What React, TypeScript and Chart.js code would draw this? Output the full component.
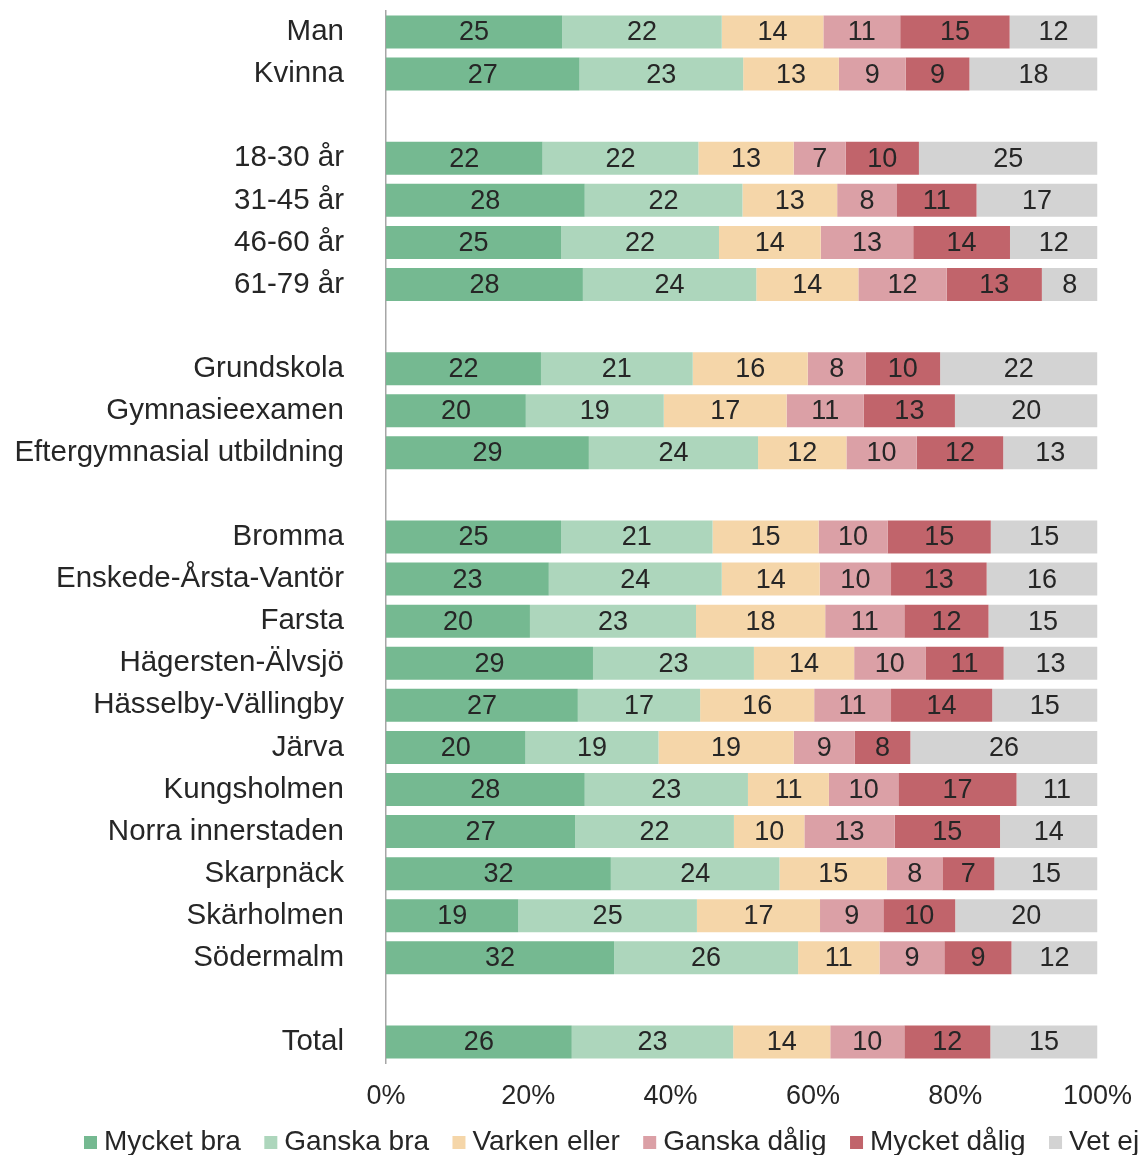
import React, { useEffect, useRef } from 'react';
import { Chart, registerables } from 'chart.js';

Chart.register(...registerables);

const categories = [
  'Man', 'Kvinna', '',
  '18-30 år', '31-45 år', '46-60 år', '61-79 år', '',
  'Grundskola', 'Gymnasieexamen', 'Eftergymnasial utbildning', '',
  'Bromma', 'Enskede-Årsta-Vantör', 'Farsta', 'Hägersten-Älvsjö', 'Hässelby-Vällingby',
  'Järva', 'Kungsholmen', 'Norra innerstaden', 'Skarpnäck', 'Skärholmen', 'Södermalm', '',
  'Total',
];

const seriesNames = ['Mycket bra', 'Ganska bra', 'Varken eller', 'Ganska dålig', 'Mycket dålig', 'Vet ej'];
const seriesColors = ['#75B991', '#ADD6BC', '#F5D6A9', '#DBA0A6', '#C1646B', '#D3D3D3'];

const mycketBra = [24.76, 27.2, null, 22.0, 27.93, 24.6, 27.67, null, 21.78, 19.65, 28.51, null, 24.6, 22.88, 20.23, 29.09, 26.96, 19.6, 27.93, 26.6, 31.6, 18.6, 32.06, null, 26.11];
const ganskaBra = [22.43, 23.0, null, 21.9, 22.17, 22.2, 24.37, null, 21.33, 19.39, 23.78, null, 21.3, 24.31, 23.34, 22.62, 17.19, 18.7, 22.94, 22.3, 23.7, 25.1, 25.86, null, 22.69];
const varkenEller = [14.28, 13.45, null, 13.4, 13.31, 14.3, 14.35, null, 16.16, 17.26, 12.42, null, 14.9, 13.77, 18.16, 14.09, 16.03, 19.0, 11.38, 9.9, 15.1, 17.3, 11.44, null, 13.64];
const ganskaDalig = [10.8, 9.4, null, 7.3, 8.41, 13.0, 12.41, null, 8.14, 10.86, 9.89, null, 9.7, 10.02, 11.12, 10.02, 10.8, 8.6, 9.76, 12.7, 7.8, 8.9, 9.11, null, 10.41];
const mycketDalig = [15.38, 8.95, null, 10.3, 11.18, 13.6, 13.38, null, 10.47, 12.8, 12.15, null, 14.5, 13.44, 11.83, 10.99, 14.22, 7.8, 16.61, 14.8, 7.3, 10.1, 9.44, null, 12.09];
const vetEj = [12.35, 18.0, null, 25.1, 17.0, 12.3, 7.82, null, 22.11, 20.04, 13.25, null, 15.0, 15.58, 15.32, 13.19, 14.8, 26.3, 11.38, 13.7, 14.5, 20.0, 12.09, null, 15.06];

const seriesValues = [mycketBra, ganskaBra, varkenEller, ganskaDalig, mycketDalig, vetEj];

const xTickValues = [0, 20, 40, 60, 80, 100];

const FONT = '"Liberation Sans", Arial, sans-serif';
const TEXT = '#262626';

export default function App() {
  const ref = useRef<HTMLCanvasElement>(null);

  useEffect(() => {
    document.body.style.margin = '0';
    const canvas = ref.current;
    if (!canvas) return;

    const segLabels = {
      id: 'segLabels',
      afterDatasetsDraw(chart: any) {
        const ctx = chart.ctx;
        ctx.save();
        ctx.font = `27px ${FONT}`;
        ctx.fillStyle = TEXT;
        ctx.textAlign = 'center';
        ctx.textBaseline = 'middle';
        chart.data.datasets.forEach((ds: any, i: number) => {
          const meta = chart.getDatasetMeta(i);
          meta.data.forEach((el: any, j: number) => {
            const v = ds.data[j];
            if (v == null) return;
            const p = el.getProps(['x', 'y', 'base'], true);
            ctx.fillText(String(Math.round(v)), (p.x + p.base) / 2, p.y + 1);
          });
        });
        ctx.restore();
      },
    };

    const bottomLegend = {
      id: 'bottomLegend',
      afterDraw(chart: any) {
        const ctx = chart.ctx;
        ctx.save();
        ctx.font = `28px ${FONT}`;
        ctx.textBaseline = 'middle';
        ctx.textAlign = 'left';
        let x = 84;
        const yText = 1142;
        chart.data.datasets.forEach((ds: any) => {
          ctx.fillStyle = ds.backgroundColor;
          ctx.fillRect(x, 1136, 13, 13);
          ctx.fillStyle = TEXT;
          ctx.fillText(ds.label, x + 20, yText);
          x += 20 + ctx.measureText(ds.label).width + 23.4;
        });
        ctx.restore();
      },
    };

    const chart = new Chart(canvas, {
      type: 'bar',
      data: {
        labels: categories,
        datasets: seriesNames.map((name, i) => ({
          label: name,
          data: seriesValues[i],
          backgroundColor: seriesColors[i],
          borderWidth: 0,
          barPercentage: 0.784,
          categoryPercentage: 1,
        })),
      },
      options: {
        indexAxis: 'y',
        responsive: false,
        animation: false,
        layout: { padding: { top: 11, right: 41.5, left: 0, bottom: 0 } },
        plugins: {
          legend: { display: false },
          tooltip: { enabled: false },
          title: { display: false },
        },
        scales: {
          x: {
            stacked: true,
            min: 0,
            max: 100,
            afterBuildTicks: (s: any) => {
              s.ticks = xTickValues.map((v) => ({ value: v }));
            },
            ticks: {
              callback: (v: any) => v + '%',
              font: { family: FONT, size: 27 },
              color: TEXT,
              padding: 17,
              maxRotation: 0,
              autoSkip: false,
            },
            grid: { display: false, drawTicks: false },
            border: { display: false },
            afterFit: (s: any) => {
              s.height = 92;
              s.paddingLeft = 0;
              s.paddingRight = 0;
            },
          },
          y: {
            stacked: true,
            ticks: {
              font: { family: FONT, size: 29.5 },
              color: TEXT,
              padding: 42,
              autoSkip: false,
            },
            grid: { display: false, drawTicks: false },
            border: { display: true, color: '#A6A6A6', width: 1.5 },
            afterFit: (s: any) => {
              s.width = 386;
              s.paddingTop = 0;
              s.paddingBottom = 0;
            },
          },
        },
      },
      plugins: [segLabels, bottomLegend],
    });

    return () => chart.destroy();
  }, []);

  return (
    <div style={{ width: 1139, height: 1155, background: '#fff' }}>
      <canvas ref={ref} width={1139} height={1155} style={{ display: 'block' }} />
    </div>
  );
}
